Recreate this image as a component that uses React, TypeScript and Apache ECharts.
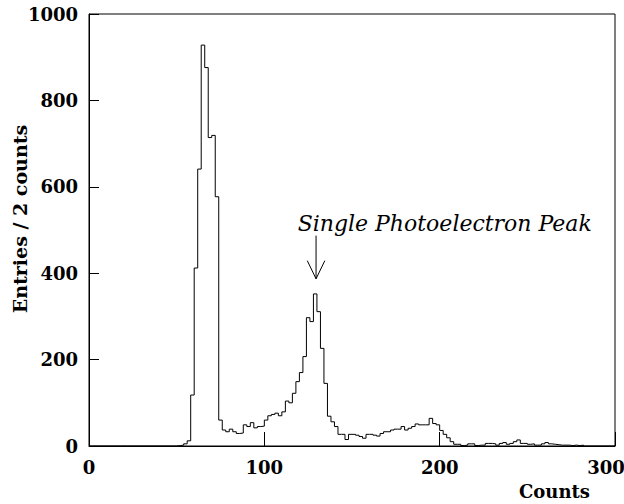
import React, { useEffect, useRef } from "react";
import * as echarts from "echarts";

// Histogram: entries per 2-count bin, bins from 0 to 300
const binWidth = 2;
const binStart = 0;
const entries: number[] = [
  0, 0, 0, 0, 0, 0, 0, 0, 0, 0,
  0, 0, 0, 0, 0, 0, 0, 0, 0, 0,
  0, 0, 0, 0, 0, 1, 2, 5, 12, 118,
  412, 641, 928, 876, 714, 719, 577, 60, 37, 33,
  39, 33, 29, 30, 49, 45, 54, 42, 45, 46,
  60, 70, 73, 76, 70, 79, 104, 100, 122, 149,
  170, 207, 297, 288, 352, 311, 226, 145, 69, 56,
  45, 27, 27, 15, 27, 27, 25, 22, 18, 27,
  27, 25, 23, 29, 33, 33, 37, 39, 39, 45,
  37, 41, 45, 51, 49, 49, 49, 64, 52, 49,
  36, 27, 19, 10, 4, 4, 1, 2, 5, 5,
  1, 2, 2, 6, 6, 5, 2, 6, 8, 4,
  6, 10, 14, 6, 6, 4, 5, 2, 2, 5,
  8, 5, 4, 3, 2, 2, 2, 1, 2, 1,
  2, 0, 0, 0, 0, 0, 0, 0, 0, 0,
];

const xMin = 0;
const xMax = 300;
const xInterval = 100;
const yMin = 0;
const yMax = 1000;
const yInterval = 200;

const xTitle = "Counts";
const yTitle = "Entries / 2 counts";

// Annotation (data coordinates)
const annotationText = "Single Photoelectron Peak";
const annotationPos: [number, number] = [119, 490];
const arrowTip: [number, number] = [129.5, 387];
const arrowTailY = 487;
const arrowWing: [number, number] = [5, 42];

const serif = "'DejaVu Serif', 'Liberation Serif', serif";

export default function App() {
  const ref = useRef<HTMLDivElement>(null);
  useEffect(() => {
    if (!ref.current) return;
    const chart = echarts.init(ref.current, undefined, { renderer: "svg" });
    const points: [number, number][] = entries.map((v, i) => [binStart + i * binWidth, v]);
    points.push([binStart + entries.length * binWidth, entries[entries.length - 1]]);

    chart.setOption({
      animation: false,
      backgroundColor: "#fff",
      grid: {
        left: 89,
        right: 9,
        top: 14,
        bottom: 58,
        containLabel: false,
        outerBoundsMode: "none",
        show: true,
        borderColor: "#000",
        borderWidth: 1,
        backgroundColor: "transparent",
      },
      xAxis: {
        type: "value",
        min: xMin,
        max: xMax,
        interval: xInterval,
        name: xTitle,
        nameLocation: "end",
        nameGap: -25,
        nameMoveOverlap: false,
        nameTextStyle: {
          fontFamily: serif,
          fontWeight: "bold",
          fontSize: 18,
          color: "#000",
          align: "right",
          verticalAlign: "top",
          padding: [36, 0, 0, 0],
        },
        axisLine: { show: true, lineStyle: { color: "#000", width: 1 } },
        axisTick: { show: true, inside: true, length: 14, lineStyle: { color: "#000" } },
        splitLine: { show: false },
        axisLabel: {
          margin: 12,
          fontFamily: serif,
          fontWeight: "bold",
          fontSize: 18,
          color: "#000",
          formatter: (v: number) => (v === xMax ? "{r|" + v + "}" : String(v)),
          rich: {
            r: {
              fontFamily: serif,
              fontWeight: "bold",
              fontSize: 18,
              color: "#000",
              padding: [0, 18, 0, 0],
            },
          },
        },
      },
      yAxis: {
        type: "value",
        min: yMin,
        max: yMax,
        interval: yInterval,
        name: yTitle,
        nameLocation: "middle",
        nameRotate: 90,
        nameGap: 60,
        nameMoveOverlap: false,
        nameTextStyle: {
          fontFamily: serif,
          fontWeight: "bold",
          fontSize: 19,
          color: "#000",
          padding: [0, 0, 0, 22],
        },
        axisLine: { show: true, lineStyle: { color: "#000", width: 1 } },
        axisTick: { show: true, inside: true, length: 10, lineStyle: { color: "#000" } },
        splitLine: { show: false },
        axisLabel: {
          margin: 11,
          fontFamily: serif,
          fontWeight: "bold",
          fontSize: 18,
          color: "#000",
          formatter: (v: number) => String(v),
        },
      },
      series: [
        {
          type: "line",
          step: "end",
          data: points,
          symbol: "none",
          lineStyle: { color: "#000", width: 1 },
          silent: true,
        },
      ],
    });

    const px = (p: [number, number]) => chart.convertToPixel({ gridIndex: 0 }, p) as number[];
    const tip = px(arrowTip);
    const tail = px([arrowTip[0], arrowTailY]);
    const wl = px([arrowTip[0] - arrowWing[0], arrowTip[1] + arrowWing[1]]);
    const wr = px([arrowTip[0] + arrowWing[0], arrowTip[1] + arrowWing[1]]);
    const tp = px(annotationPos);

    chart.setOption({
      graphic: [
        {
          type: "text",
          x: tp[0],
          y: tp[1],
          style: {
            text: annotationText,
            font: "italic 22px " + serif,
            fill: "#000",
            textAlign: "left",
            textVerticalAlign: "bottom",
          },
        },
        {
          type: "line",
          shape: { x1: tail[0], y1: tail[1], x2: tip[0], y2: tip[1] },
          style: { stroke: "#000", lineWidth: 1 },
        },
        {
          type: "polyline",
          shape: { points: [wl, tip, wr] },
          style: { stroke: "#000", lineWidth: 1, fill: null },
        },
      ],
    });

    return () => chart.dispose();
  }, []);

  return (
    <div
      ref={ref}
      style={{ position: "fixed", left: 0, top: 0, width: 624, height: 504, background: "#fff" }}
    />
  );
}
